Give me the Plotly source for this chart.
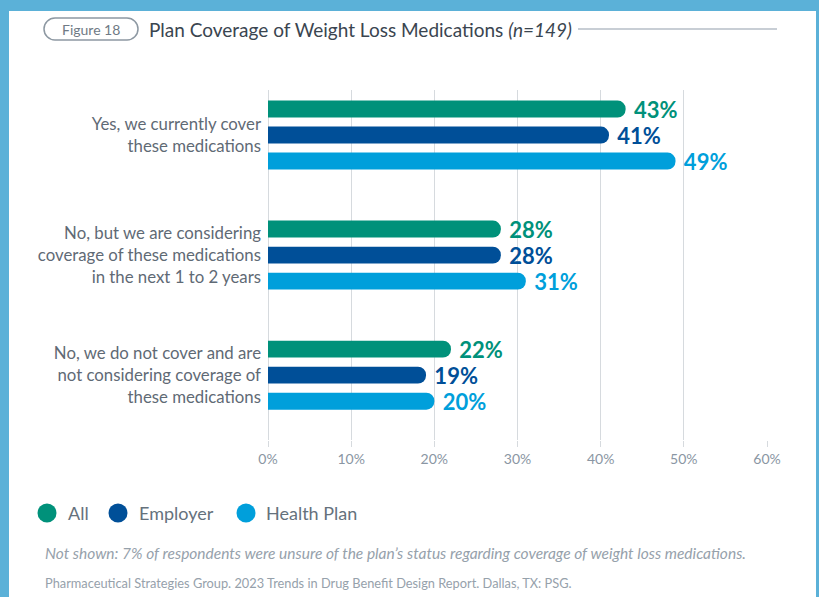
import plotly.graph_objects as go

# ---------------- data ----------------
categories = [
    "Yes, we currently cover<br>these medications",
    "No, but we are considering<br>coverage of these medications<br>in the next 1 to 2 years",
    "No, we do not cover and are<br>not considering coverage of<br>these medications",
]
series_names = ["All", "Employer", "Health Plan"]
all_vals = [43, 28, 22]
employer_vals = [41, 28, 19]
health_plan_vals = [49, 31, 20]
x_tick_vals = [0, 10, 20, 30, 40, 50, 60]
x_tick_text = ["0%", "10%", "20%", "30%", "40%", "50%", "60%"]

colors = ["#00917a", "#004f98", "#009fdb"]
FONT = "Lato"

# ---------------- layout geometry (pixels) ----------------
W, H = 819, 597
L, R, T, B = 268, 52, 90, 157
PW, PH = W - L - R, H - T - B


def px2x(px):
    return (px - L) / PW


def px2y(py):
    return 1 - (py - T) / PH


fig = go.Figure()
for name, vals, col in zip(series_names, [all_vals, employer_vals, health_plan_vals], colors):
    fig.add_trace(go.Bar(
        name=name,
        y=categories,
        x=vals,
        orientation="h",
        marker=dict(color=col, line=dict(width=0)),
        text=[f"\u00a0{v}%" for v in vals],
        textposition="outside",
        textfont=dict(family=FONT, size=22, color=col, weight="bold"),
        constraintext="none",
        cliponaxis=False,
        showlegend=False,
        hoverinfo="skip",
    ))

shapes = []
annotations = []

# blue frame
frame_col = "#5bb1d8"
for x0, x1, y0, y1 in [(-5, W + 5, -5, 11), (-5, 9, -5, H + 5), (816, W + 5, -5, H + 5)]:
    shapes.append(dict(type="rect", xref="paper", yref="paper",
                       x0=px2x(x0), x1=px2x(x1), y0=px2y(y0), y1=px2y(y1),
                       fillcolor=frame_col, line=dict(width=0), layer="above"))


# "Figure 18" pill
def pill_path(x0, y0, x1, y1):
    r = (y1 - y0) / 2
    k = 0.5523 * r

    def P(x, y):
        return f"{px2x(x):.5f},{px2y(y):.5f}"
    p = f"M {P(x0 + r, y0)} L {P(x1 - r, y0)} "
    p += f"C {P(x1 - r + k, y0)} {P(x1, y0 + r - k)} {P(x1, y0 + r)} "
    p += f"C {P(x1, y0 + r + k)} {P(x1 - r + k, y1)} {P(x1 - r, y1)} "
    p += f"L {P(x0 + r, y1)} "
    p += f"C {P(x0 + r - k, y1)} {P(x0, y0 + r + k)} {P(x0, y0 + r)} "
    p += f"C {P(x0, y0 + r - k)} {P(x0 + r - k, y0)} {P(x0 + r, y0)} Z"
    return p


shapes.append(dict(type="path", xref="paper", yref="paper",
                   path=pill_path(44, 18, 138, 40),
                   line=dict(color="#8d98a2", width=1.5), fillcolor="rgba(0,0,0,0)"))
annotations.append(dict(xref="paper", yref="paper", x=px2x(91), y=px2y(29.5),
                        xanchor="center", yanchor="middle", showarrow=False,
                        text="Figure 18", font=dict(family=FONT, size=14, color="#6f7a85")))

# title
annotations.append(dict(xref="paper", yref="paper", x=px2x(147), y=px2y(30),
                        xanchor="left", yanchor="middle", showarrow=False,
                        text="Plan Coverage of Weight Loss Medications <i>(n=149)</i>",
                        font=dict(family=FONT, size=19, color="#3a4550")))
shapes.append(dict(type="line", xref="paper", yref="paper",
                   x0=px2x(578), x1=px2x(777), y0=px2y(29), y1=px2y(29),
                   line=dict(color="#c8ced5", width=2)))

# legend (manual)
leg_circle_cx = [47, 118, 246]
leg_text_x = [68, 139, 266]
leg_y = 513
for name, col, cx, tx in zip(series_names, colors, leg_circle_cx, leg_text_x):
    rr = 9.5
    shapes.append(dict(type="circle", xref="paper", yref="paper",
                       x0=px2x(cx - rr), x1=px2x(cx + rr), y0=px2y(leg_y - rr), y1=px2y(leg_y + rr),
                       fillcolor=col, line=dict(width=0)))
    annotations.append(dict(xref="paper", yref="paper", x=px2x(tx - 2), y=px2y(leg_y),
                            xanchor="left", yanchor="middle", showarrow=False,
                            text=name, font=dict(family=FONT, size=18, color="#65717c")))

# footnote and source
annotations.append(dict(xref="paper", yref="paper", x=px2x(43), y=px2y(553),
                        xanchor="left", yanchor="middle", showarrow=False,
                        text="<i>Not shown: 7% of respondents were unsure of the plan\u2019s status regarding coverage of weight loss medications.</i>",
                        font=dict(family=FONT, size=15.5, color="#96a1ab")))
annotations.append(dict(xref="paper", yref="paper", x=px2x(43), y=px2y(583),
                        xanchor="left", yanchor="middle", showarrow=False,
                        text="Pharmaceutical Strategies Group. 2023 Trends in Drug Benefit Design Report. Dallas, TX: PSG.",
                        font=dict(family=FONT, size=12.8, color="#96a1ab")))

grid_col = "#d6dade"
fig.update_layout(
    width=W, height=H,
    margin=dict(l=L, r=R, t=T, b=B, pad=0),
    paper_bgcolor="white", plot_bgcolor="white",
    barmode="group", bargap=0.35, bargroupgap=0.35,
    barcornerradius=9,
    font=dict(family=FONT),
    shapes=shapes, annotations=annotations,
    showlegend=False,
    xaxis=dict(range=[0, 60], tickvals=x_tick_vals, ticktext=x_tick_text,
               showgrid=True, gridcolor=grid_col, gridwidth=1,
               zeroline=True, zerolinecolor=grid_col, zerolinewidth=1,
               showline=False, ticks="outside", ticklen=6, tickcolor=grid_col,
               tickfont=dict(family=FONT, size=14, color="#8a96a3"), fixedrange=True),
    yaxis=dict(type="category", categoryarray=categories, categoryorder="array",
               range=[2.54, -0.375], showgrid=False, zeroline=False, showline=False,
               ticks="", ticklabelstandoff=6,
               tickfont=dict(family=FONT, size=16.8, color="#5f6a75"), fixedrange=True),
)

fig.write_html("out.html", config={"displayModeBar": False},
               post_script="document.body.style.margin='0';")
